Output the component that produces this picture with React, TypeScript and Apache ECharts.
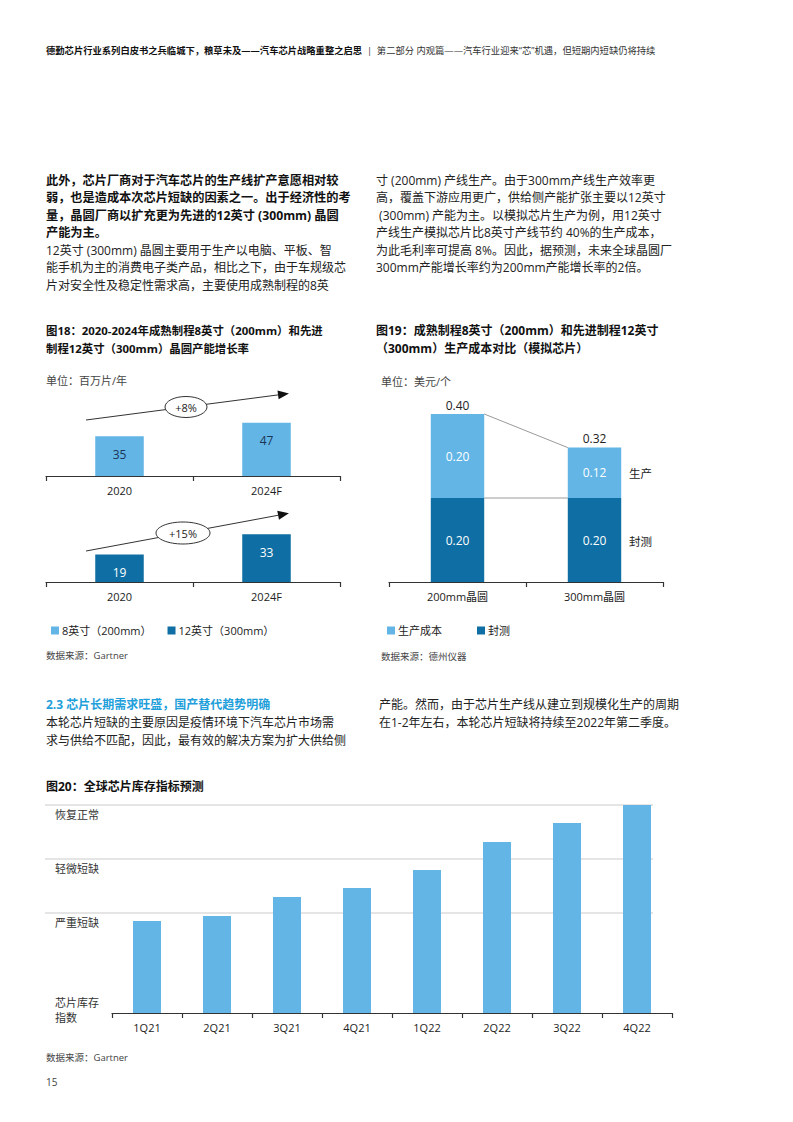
import React, { useEffect, useRef } from 'react';
import * as echarts from 'echarts';

const FONT = "'Open Sans', 'Noto Sans CJK SC', sans-serif";
const LIGHT = '#62b5e5';
const DARK = '#0f6ea3';
const TEXT = '#222222';
const GREY = '#444444';
const HEAD_BLUE = '#1fa0da';

// ---------- Figure 18 data ----------
const fig18Years = ['2020', '2024F'];
const fig18Wafer8 = [35, 47];
const fig18Wafer12 = [19, 33];
const fig18Growth = ['+8%', '+15%'];
const fig18Series = ['8英寸（200mm）', '12英寸（300mm）'];

// ---------- Figure 19 data ----------
const fig19Categories = ['200mm晶圆', '300mm晶圆'];
const fig19Production = [0.2, 0.12];
const fig19Packaging = [0.2, 0.2];
const fig19Total = [0.4, 0.32];
const fig19Series = ['生产成本', '封测'];

// ---------- Figure 20 data ----------
const fig20Quarters = ['1Q21', '2Q21', '3Q21', '4Q21', '1Q22', '2Q22', '3Q22', '4Q22'];
const fig20Index = [44.2, 46.6, 55.8, 60.1, 68.8, 82.2, 91.3, 100];
const fig20Levels = [48.1, 74, 100];
const fig20LevelLabels = ['严重短缺', '轻微短缺', '恢复正常'];

// ---------- Page text ----------
const headerBold = '德勤芯片行业系列白皮书之兵临城下，粮草未及——汽车芯片战略重整之启思';
const headerRegular = '第二部分 内观篇——汽车行业迎来“芯”机遇，但短期内短缺仍将持续';
const leftBold = [
  '此外，芯片厂商对于汽车芯片的生产线扩产意愿相对较',
  '弱，也是造成本次芯片短缺的因素之一。出于经济性的考',
  '量，晶圆厂商以扩充更为先进的12英寸 (300mm) 晶圆',
  '产能为主。',
];
const leftRegular = [
  '12英寸 (300mm) 晶圆主要用于生产以电脑、平板、智',
  '能手机为主的消费电子类产品，相比之下，由于车规级芯',
  '片对安全性及稳定性需求高，主要使用成熟制程的8英',
];
const rightTop = [
  '寸 (200mm) 产线生产。由于300mm产线生产效率更',
  '高，覆盖下游应用更广，供给侧产能扩张主要以12英寸',
  ' (300mm) 产能为主。以模拟芯片生产为例，用12英寸',
  '产线生产模拟芯片比8英寸产线节约 40%的生产成本，',
  '为此毛利率可提高 8%。因此，据预测，未来全球晶圆厂',
  '300mm产能增长率约为200mm产能增长率的2倍。',
];
const fig18Title = ['图18：2020-2024年成熟制程8英寸（200mm）和先进', '制程12英寸（300mm）晶圆产能增长率'];
const fig19Title = ['图19：成熟制程8英寸（200mm）和先进制程12英寸', '（300mm）生产成本对比（模拟芯片）'];
const sectionHeading = '2.3 芯片长期需求旺盛，国产替代趋势明确';
const sectionLeft = ['本轮芯片短缺的主要原因是疫情环境下汽车芯片市场需', '求与供给不匹配，因此，最有效的解决方案为扩大供给侧'];
const sectionRight = ['产能。然而，由于芯片生产线从建立到规模化生产的周期', '在1-2年左右，本轮芯片短缺将持续至2022年第二季度。'];
const fig20Title = '图20：全球芯片库存指标预测';

function txt(x: number, y: number, text: string, o: any = {}) {
  return {
    type: 'text',
    x,
    y,
    silent: true,
    z: 10,
    style: {
      text,
      fontFamily: FONT,
      fontSize: o.size || 12,
      fontWeight: o.weight || 'normal',
      fill: o.color || TEXT,
      align: o.align || 'left',
      verticalAlign: 'middle',
      lineHeight: o.lh,
      rich: o.rich,
    },
  };
}

function arrowGroup(x1: number, y1: number, x2: number, y2: number, cx: number, cy: number, rx: number, ry: number, label: string) {
  const dx = x2 - x1;
  const dy = y2 - y1;
  const len = Math.sqrt(dx * dx + dy * dy);
  const ux = dx / len;
  const uy = dy / len;
  const nx = -uy;
  const ny = ux;
  const tipX = x2 + ux * 4;
  const tipY = y2 + uy * 4;
  const bx = tipX - ux * 11;
  const by = tipY - uy * 11;
  return [
    { type: 'line', silent: true, z: 5, shape: { x1, y1, x2: bx, y2: by }, style: { stroke: '#333', lineWidth: 1 } },
    {
      type: 'polygon',
      silent: true,
      z: 5,
      shape: { points: [[tipX, tipY], [bx + nx * 4.5, by + ny * 4.5], [bx - nx * 4.5, by - ny * 4.5]] },
      style: { fill: '#111' },
    },
    { type: 'ellipse', silent: true, z: 6, shape: { cx, cy, rx, ry }, style: { fill: '#fff', stroke: '#333', lineWidth: 1 } },
    txt(cx, cy, label, { size: 11, align: 'center', color: TEXT }),
  ];
}

const catAxisBase = {
  type: 'category',
  axisLine: { lineStyle: { color: '#333', width: 1.2 } },
  axisTick: { show: true, length: 5, lineStyle: { color: '#333', width: 1.2 } },
  axisLabel: { color: TEXT, fontSize: 11, fontFamily: FONT, margin: 9 },
  splitLine: { show: false },
};

export default function App() {
  const ref = useRef<HTMLDivElement>(null);

  useEffect(() => {
    document.body.style.margin = '0';
    if (!ref.current) return;
    const chart = echarts.init(ref.current, null, { renderer: 'svg' });

    const graphics: any[] = [];
    // header
    graphics.push(
      txt(46, 50, `{b|${headerBold}}{s|  |  }{r|${headerRegular}}`, {
        size: 9.3,
        rich: {
          b: { fontFamily: FONT, fontSize: 9.3, fontWeight: 'bold', fill: '#111' },
          s: { fontFamily: FONT, fontSize: 9.3, fill: '#333' },
          r: { fontFamily: FONT, fontSize: 9.3, fill: '#333' },
        },
      })
    );
    // paragraph
    leftBold.forEach((l, i) => graphics.push(txt(46, 180 + i * 17.6, l, { size: 12.2, weight: 'bold', color: '#111' })));
    leftRegular.forEach((l, i) => graphics.push(txt(46, 250 + i * 17.6, l, { size: 12 })));
    rightTop.forEach((l, i) => graphics.push(txt(376, 180 + i * 17.5, l, { size: 12 })));
    // fig titles
    fig18Title.forEach((l, i) => graphics.push(txt(46, 330 + i * 18, l, { size: 11.4, weight: 'bold', color: '#111' })));
    fig19Title.forEach((l, i) => graphics.push(txt(376, 330 + i * 18, l, { size: 12, weight: 'bold', color: '#111' })));
    graphics.push(txt(46, 380, '单位：百万片/年', { size: 11, color: GREY }));
    graphics.push(txt(381, 381, '单位：美元/个', { size: 11, color: GREY }));
    graphics.push(txt(46, 655, '数据来源：Gartner', { size: 9.5, color: GREY }));
    graphics.push(txt(381, 656, '数据来源：德州仪器', { size: 9.5, color: GREY }));
    // fig 18 arrows
    graphics.push(...arrowGroup(86, 420, 285, 394, 186, 407, 21, 10.5, fig18Growth[0]));
    graphics.push(...arrowGroup(86, 551, 285, 514, 183, 533, 27, 11, fig18Growth[1]));
    // fig 19 side labels
    graphics.push(txt(629, 473, '生产', { size: 11.5 }));
    graphics.push(txt(629, 541, '封测', { size: 11.5 }));
    // section 2.3
    graphics.push(txt(46, 704, sectionHeading, { size: 12, weight: 'bold', color: HEAD_BLUE }));
    sectionLeft.forEach((l, i) => graphics.push(txt(46, 722 + i * 18, l, { size: 12 })));
    sectionRight.forEach((l, i) => graphics.push(txt(379, 704 + i * 18, l, { size: 12 })));
    graphics.push(txt(46, 786, fig20Title, { size: 12, weight: 'bold', color: '#111' }));
    graphics.push(txt(55, 1010, '芯片库存\n指数', { size: 11, color: '#333', lh: 15 }));
    graphics.push(txt(46, 1057, '数据来源：Gartner', { size: 9.5, color: GREY }));
    graphics.push(txt(46, 1082, '15', { size: 10, color: GREY }));

    const option: any = {
      animation: false,
      backgroundColor: '#ffffff',
      textStyle: { fontFamily: FONT },
      grid: [
        { left: 46, top: 408, width: 294, height: 68 },
        { left: 46, top: 524, width: 294, height: 58 },
        { left: 389, top: 372, width: 274, height: 210 },
        { left: 112, top: 805, width: 560, height: 208 },
        { left: 45, top: 805, width: 608, height: 208 },
      ],
      xAxis: [
        { ...catAxisBase, gridIndex: 0, data: fig18Years },
        { ...catAxisBase, gridIndex: 1, data: fig18Years },
        { ...catAxisBase, gridIndex: 2, data: fig19Categories },
        { ...catAxisBase, gridIndex: 3, data: fig20Quarters },
        { type: 'value', gridIndex: 4, min: 0, max: 1, show: false },
      ],
      yAxis: [
        { type: 'value', gridIndex: 0, min: 0, max: 60, show: false },
        { type: 'value', gridIndex: 1, min: 0, max: 40, show: false },
        { type: 'value', gridIndex: 2, min: 0, max: 0.5, show: false },
        { type: 'value', gridIndex: 3, min: 0, max: 100, show: false },
        { type: 'value', gridIndex: 4, min: 0, max: 100, show: false },
      ],
      legend: [
        {
          left: 46,
          top: 620,
          icon: 'rect',
          itemWidth: 8,
          itemHeight: 8,
          itemGap: 16,
          textStyle: { fontSize: 11, color: TEXT, fontFamily: FONT, padding: [0, 0, 0, -2] },
          data: fig18Series,
        },
        {
          left: 382,
          top: 620,
          icon: 'rect',
          itemWidth: 8,
          itemHeight: 8,
          itemGap: 35,
          textStyle: { fontSize: 11, color: TEXT, fontFamily: FONT, padding: [0, 0, 0, -2] },
          data: fig19Series,
        },
      ],
      graphic: graphics,
      series: [
        {
          name: fig18Series[0],
          type: 'bar',
          xAxisIndex: 0,
          yAxisIndex: 0,
          data: fig18Wafer8,
          barWidth: '33%',
          itemStyle: { color: LIGHT },
          label: { show: true, position: 'insideTop', distance: 12, color: '#1b3655', fontSize: 12, fontFamily: FONT },
        },
        {
          name: fig18Series[1],
          type: 'bar',
          xAxisIndex: 1,
          yAxisIndex: 1,
          data: fig18Wafer12,
          barWidth: '33%',
          itemStyle: { color: DARK },
          label: { show: true, position: 'insideTop', distance: 12, color: '#ffffff', fontSize: 12, fontFamily: FONT },
        },
        {
          name: fig19Series[1],
          type: 'bar',
          stack: 'cost',
          xAxisIndex: 2,
          yAxisIndex: 2,
          data: fig19Packaging,
          barWidth: '39%',
          itemStyle: { color: DARK },
          label: {
            show: true,
            position: 'inside',
            color: '#ffffff',
            fontSize: 12,
            fontFamily: FONT,
            formatter: (p: any) => Number(p.value).toFixed(2),
          },
        },
        {
          name: fig19Series[0],
          type: 'bar',
          stack: 'cost',
          xAxisIndex: 2,
          yAxisIndex: 2,
          data: fig19Production,
          barWidth: '39%',
          itemStyle: { color: LIGHT },
          label: {
            show: true,
            position: 'inside',
            color: '#ffffff',
            fontSize: 12,
            fontFamily: FONT,
            formatter: (p: any) => Number(p.value).toFixed(2),
          },
        },
        {
          name: 'total',
          type: 'bar',
          stack: 'cost',
          xAxisIndex: 2,
          yAxisIndex: 2,
          data: fig19Total.map(() => 0),
          barWidth: '39%',
          itemStyle: { color: 'transparent' },
          label: {
            show: true,
            position: 'top',
            distance: 3,
            color: TEXT,
            fontSize: 12,
            fontFamily: FONT,
            formatter: (p: any) => fig19Total[p.dataIndex].toFixed(2),
          },
        },
        {
          name: 'connector',
          type: 'custom',
          xAxisIndex: 2,
          yAxisIndex: 2,
          silent: true,
          z: 1,
          data: [
            [0, fig19Total[0], 1, fig19Total[1]],
            [0, fig19Packaging[0], 1, fig19Packaging[1]],
          ],
          renderItem: (params: any, api: any) => {
            const p1 = api.coord([api.value(0), api.value(1)]);
            const p2 = api.coord([api.value(2), api.value(3)]);
            const half = (api.size([1, 0])[0] * 0.39) / 2;
            return {
              type: 'line',
              shape: { x1: p1[0] + half, y1: p1[1], x2: p2[0] - half, y2: p2[1] },
              style: { stroke: '#9a9a9a', lineWidth: 1 },
            };
          },
        },
        {
          name: 'index',
          type: 'bar',
          xAxisIndex: 3,
          yAxisIndex: 3,
          z: 3,
          data: fig20Index,
          barWidth: '40%',
          itemStyle: { color: LIGHT },
        },
        {
          name: 'levels',
          type: 'line',
          xAxisIndex: 4,
          yAxisIndex: 4,
          z: 1,
          symbol: 'none',
          lineStyle: { width: 0 },
          data: [[0, 0]],
          markLine: {
            silent: true,
            symbol: 'none',
            z: 1,
            lineStyle: { color: '#dcdcdc', width: 1.5, type: 'solid' },
            label: {
              show: true,
              position: 'insideStartBottom',
              distance: [10, 4],
              formatter: '{b}',
              color: '#333',
              fontSize: 11,
              fontFamily: FONT,
            },
            data: fig20Levels.map((v, i) => ({ yAxis: v, name: fig20LevelLabels[i] })),
          },
        },
      ],
    };

    chart.setOption(option);
    return () => {
      chart.dispose();
    };
  }, []);

  return <div ref={ref} style={{ width: 793, height: 1122 }} />;
}
